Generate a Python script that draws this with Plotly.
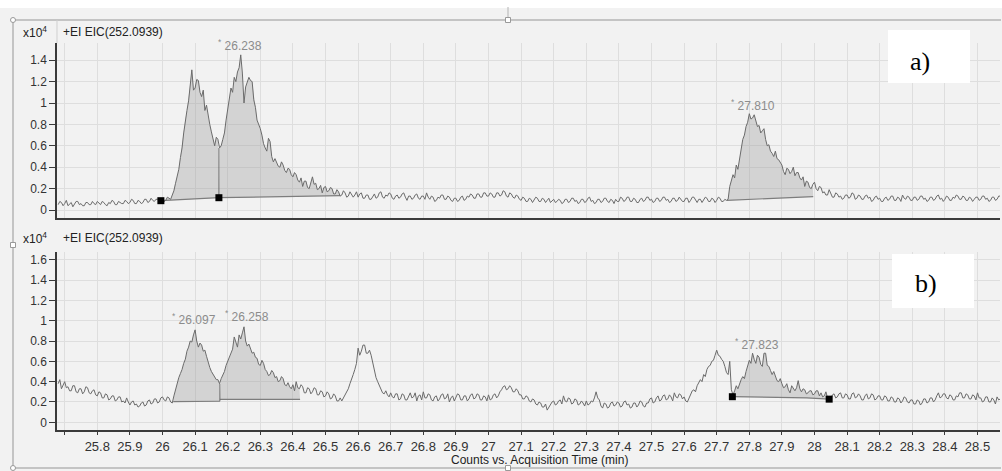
import numpy as np
import plotly.graph_objects as go

W, H = 1002, 471
T0, DT = 25.68, 0.005

# ---- EIC traces (counts x10^4), one row per 0.1 min (0.005 min sampling) ----
eic_a = [
    0.05, 0.08, 0.07, 0.04,
    0.06, 0.09, 0.04, 0.06, 0.07, 0.03, 0.05, 0.08, 0.08, 0.05, 0.06, 0.04, 0.04, 0.07, 0.07, 0.05, 0.05, 0.08, 0.06, 0.05,  # 25.7
    0.08, 0.06, 0.05, 0.08, 0.07, 0.05, 0.04, 0.07, 0.06, 0.09, 0.08, 0.05, 0.05, 0.08, 0.07, 0.06, 0.06, 0.09, 0.08, 0.06,  # 25.8
    0.07, 0.10, 0.09, 0.06, 0.06, 0.09, 0.08, 0.06, 0.07, 0.10, 0.10, 0.07, 0.08, 0.11, 0.09, 0.08, 0.10, 0.10, 0.09, 0.10,  # 25.9
    0.10, 0.08, 0.09, 0.12, 0.11, 0.10, 0.14, 0.18, 0.25, 0.31, 0.38, 0.49, 0.58, 0.72, 0.85, 0.93, 1.02, 1.17, 1.31, 1.12,  # 26.0
    1.14, 1.22, 1.21, 1.10, 1.06, 1.12, 0.93, 0.98, 0.87, 0.80, 0.73, 0.66, 0.60, 0.68, 0.66, 0.58, 0.60, 0.66, 0.72, 0.84,  # 26.1
    0.93, 1.05, 1.14, 1.10, 1.24, 1.20, 1.29, 1.33, 1.45, 1.28, 1.00, 1.15, 1.19, 1.24, 1.21, 1.20, 1.03, 0.96, 0.84, 0.80,  # 26.2
    0.76, 0.70, 0.62, 0.58, 0.55, 0.67, 0.64, 0.50, 0.45, 0.48, 0.44, 0.41, 0.40, 0.45, 0.42, 0.37, 0.35, 0.39, 0.38, 0.33,  # 26.3
    0.31, 0.35, 0.33, 0.28, 0.26, 0.30, 0.22, 0.27, 0.27, 0.21, 0.20, 0.26, 0.31, 0.24, 0.25, 0.19, 0.20, 0.23, 0.16, 0.21,  # 26.4
    0.22, 0.17, 0.18, 0.21, 0.20, 0.15, 0.15, 0.19, 0.17, 0.13, 0.14, 0.18, 0.16, 0.12, 0.13, 0.17, 0.15, 0.12, 0.14, 0.17,  # 26.5
    0.12, 0.15, 0.16, 0.11, 0.11, 0.14, 0.14, 0.10, 0.10, 0.13, 0.15, 0.11, 0.12, 0.16, 0.17, 0.12, 0.11, 0.14, 0.13, 0.16,  # 26.6
    0.15, 0.11, 0.10, 0.13, 0.14, 0.11, 0.12, 0.15, 0.16, 0.12, 0.09, 0.13, 0.13, 0.10, 0.11, 0.14, 0.15, 0.11, 0.10, 0.13,  # 26.7
    0.13, 0.10, 0.16, 0.12, 0.10, 0.13, 0.12, 0.08, 0.09, 0.12, 0.11, 0.14, 0.14, 0.10, 0.10, 0.13, 0.12, 0.09, 0.08, 0.11,  # 26.8
    0.11, 0.08, 0.09, 0.12, 0.13, 0.09, 0.10, 0.13, 0.12, 0.15, 0.14, 0.11, 0.11, 0.15, 0.15, 0.12, 0.12, 0.16, 0.16, 0.13,  # 26.9
    0.13, 0.16, 0.15, 0.12, 0.12, 0.16, 0.16, 0.13, 0.14, 0.18, 0.17, 0.13, 0.12, 0.16, 0.15, 0.12, 0.11, 0.14, 0.13, 0.10,  # 27.0
    0.09, 0.12, 0.11, 0.08, 0.08, 0.11, 0.10, 0.07, 0.09, 0.12, 0.11, 0.08, 0.08, 0.11, 0.10, 0.07, 0.09, 0.11, 0.07, 0.09,  # 27.1
    0.10, 0.07, 0.08, 0.10, 0.09, 0.06, 0.07, 0.10, 0.10, 0.07, 0.08, 0.11, 0.11, 0.08, 0.09, 0.06, 0.07, 0.10, 0.10, 0.07,  # 27.2
    0.08, 0.11, 0.12, 0.08, 0.09, 0.06, 0.07, 0.10, 0.10, 0.07, 0.08, 0.11, 0.11, 0.08, 0.07, 0.10, 0.09, 0.06, 0.10, 0.08,  # 27.3
    0.08, 0.12, 0.11, 0.08, 0.09, 0.12, 0.12, 0.08, 0.08, 0.11, 0.10, 0.07, 0.07, 0.10, 0.11, 0.08, 0.09, 0.12, 0.12, 0.09,  # 27.4
    0.10, 0.07, 0.08, 0.11, 0.11, 0.08, 0.09, 0.12, 0.12, 0.09, 0.10, 0.07, 0.08, 0.11, 0.11, 0.08, 0.09, 0.12, 0.10, 0.08,  # 27.5
    0.08, 0.11, 0.11, 0.07, 0.09, 0.12, 0.12, 0.09, 0.07, 0.10, 0.10, 0.07, 0.09, 0.12, 0.11, 0.08, 0.08, 0.11, 0.10, 0.07,  # 27.6
    0.09, 0.12, 0.11, 0.08, 0.08, 0.10, 0.09, 0.10, 0.22, 0.27, 0.33, 0.30, 0.42, 0.38, 0.48, 0.55, 0.66, 0.70, 0.78, 0.82,  # 27.7
    0.90, 0.85, 0.86, 0.89, 0.83, 0.78, 0.79, 0.72, 0.74, 0.76, 0.66, 0.60, 0.61, 0.55, 0.53, 0.50, 0.55, 0.48, 0.47, 0.44,  # 27.8
    0.42, 0.36, 0.33, 0.39, 0.38, 0.34, 0.36, 0.40, 0.32, 0.35, 0.35, 0.30, 0.28, 0.31, 0.22, 0.27, 0.26, 0.21, 0.20, 0.24,  # 27.9
    0.26, 0.20, 0.18, 0.22, 0.21, 0.16, 0.17, 0.14, 0.14, 0.19, 0.16, 0.12, 0.12, 0.16, 0.15, 0.12, 0.13, 0.10, 0.11, 0.14,  # 28.0
    0.14, 0.11, 0.12, 0.16, 0.15, 0.10, 0.11, 0.14, 0.13, 0.10, 0.10, 0.13, 0.14, 0.11, 0.12, 0.08, 0.09, 0.12, 0.13, 0.10,  # 28.1
    0.11, 0.08, 0.08, 0.11, 0.12, 0.09, 0.10, 0.13, 0.13, 0.09, 0.09, 0.12, 0.11, 0.08, 0.14, 0.11, 0.10, 0.13, 0.12, 0.09,  # 28.2
    0.09, 0.12, 0.12, 0.09, 0.10, 0.13, 0.13, 0.10, 0.11, 0.08, 0.09, 0.12, 0.12, 0.09, 0.10, 0.13, 0.14, 0.10, 0.11, 0.08,  # 28.3
    0.10, 0.13, 0.12, 0.09, 0.09, 0.12, 0.11, 0.14, 0.13, 0.10, 0.10, 0.13, 0.12, 0.09, 0.09, 0.12, 0.11, 0.08, 0.10, 0.12,  # 28.4
    0.12, 0.09, 0.10, 0.13, 0.13, 0.10, 0.11, 0.08, 0.09, 0.12, 0.12, 0.09, 0.10, 0.13, 0.13, 0.10, 0.11, 0.14, 0.12, 0.09,  # 28.5
]

eic_b = [
    0.38, 0.42, 0.33, 0.37,
    0.40, 0.34, 0.35, 0.31, 0.31, 0.36, 0.36, 0.30, 0.29, 0.33, 0.33, 0.28, 0.30, 0.35, 0.34, 0.29, 0.28, 0.31, 0.32, 0.27,  # 25.7
    0.26, 0.30, 0.29, 0.24, 0.24, 0.28, 0.27, 0.22, 0.23, 0.26, 0.26, 0.21, 0.22, 0.25, 0.25, 0.20, 0.21, 0.19, 0.24, 0.20,  # 25.8
    0.17, 0.20, 0.21, 0.17, 0.18, 0.15, 0.16, 0.19, 0.20, 0.16, 0.17, 0.21, 0.22, 0.18, 0.19, 0.23, 0.23, 0.19, 0.20, 0.24,  # 25.9
    0.25, 0.22, 0.21, 0.25, 0.24, 0.20, 0.19, 0.26, 0.33, 0.38, 0.44, 0.48, 0.52, 0.58, 0.62, 0.70, 0.74, 0.80, 0.79, 0.86,  # 26.0
    0.91, 0.80, 0.74, 0.78, 0.76, 0.70, 0.71, 0.65, 0.58, 0.54, 0.50, 0.47, 0.45, 0.42, 0.42, 0.38, 0.43, 0.46, 0.50, 0.56,  # 26.1
    0.60, 0.63, 0.67, 0.72, 0.84, 0.78, 0.74, 0.86, 0.82, 0.88, 0.94, 0.80, 0.75, 0.77, 0.72, 0.68, 0.69, 0.64, 0.63, 0.57,  # 26.2
    0.56, 0.61, 0.58, 0.52, 0.50, 0.46, 0.47, 0.51, 0.49, 0.44, 0.45, 0.40, 0.41, 0.45, 0.43, 0.37, 0.36, 0.39, 0.35, 0.33,  # 26.3
    0.37, 0.31, 0.40, 0.34, 0.33, 0.37, 0.35, 0.29, 0.29, 0.34, 0.33, 0.28, 0.30, 0.34, 0.33, 0.27, 0.27, 0.31, 0.30, 0.25,  # 26.4
    0.26, 0.30, 0.28, 0.23, 0.24, 0.28, 0.26, 0.21, 0.21, 0.24, 0.21, 0.24, 0.26, 0.30, 0.33, 0.38, 0.42, 0.47, 0.52, 0.58,  # 26.5
    0.73, 0.66, 0.70, 0.76, 0.76, 0.68, 0.68, 0.71, 0.66, 0.58, 0.50, 0.44, 0.40, 0.36, 0.33, 0.29, 0.28, 0.31, 0.27, 0.25,  # 26.6
    0.29, 0.25, 0.24, 0.28, 0.28, 0.22, 0.23, 0.28, 0.27, 0.22, 0.22, 0.26, 0.29, 0.24, 0.25, 0.29, 0.21, 0.26, 0.27, 0.22,  # 26.7
    0.30, 0.24, 0.24, 0.28, 0.27, 0.22, 0.21, 0.25, 0.26, 0.21, 0.23, 0.27, 0.28, 0.23, 0.24, 0.28, 0.20, 0.24, 0.26, 0.21,  # 26.8
    0.24, 0.28, 0.27, 0.22, 0.22, 0.26, 0.26, 0.21, 0.23, 0.27, 0.28, 0.23, 0.24, 0.28, 0.27, 0.22, 0.22, 0.26, 0.25, 0.21,  # 26.9
    0.27, 0.22, 0.23, 0.27, 0.28, 0.24, 0.26, 0.30, 0.32, 0.35, 0.36, 0.32, 0.33, 0.36, 0.34, 0.30, 0.30, 0.33, 0.31, 0.27,  # 27.0
    0.27, 0.23, 0.23, 0.26, 0.25, 0.21, 0.20, 0.23, 0.22, 0.18, 0.17, 0.20, 0.19, 0.15, 0.15, 0.18, 0.12, 0.15, 0.17, 0.20,  # 27.1
    0.21, 0.17, 0.18, 0.21, 0.22, 0.18, 0.26, 0.21, 0.20, 0.24, 0.23, 0.18, 0.19, 0.23, 0.22, 0.17, 0.18, 0.21, 0.19, 0.16,  # 27.2
    0.21, 0.17, 0.18, 0.21, 0.20, 0.24, 0.30, 0.24, 0.22, 0.16, 0.14, 0.19, 0.18, 0.14, 0.15, 0.19, 0.20, 0.16, 0.17, 0.20,  # 27.3
    0.19, 0.15, 0.16, 0.20, 0.21, 0.17, 0.18, 0.14, 0.15, 0.19, 0.19, 0.15, 0.17, 0.21, 0.20, 0.16, 0.15, 0.19, 0.19, 0.23,  # 27.4
    0.24, 0.19, 0.20, 0.24, 0.26, 0.21, 0.22, 0.26, 0.27, 0.22, 0.23, 0.27, 0.25, 0.21, 0.29, 0.25, 0.24, 0.28, 0.27, 0.23,  # 27.5
    0.25, 0.21, 0.20, 0.24, 0.28, 0.31, 0.32, 0.30, 0.36, 0.39, 0.42, 0.40, 0.47, 0.45, 0.52, 0.55, 0.56, 0.60, 0.61, 0.66,  # 27.6
    0.71, 0.66, 0.65, 0.62, 0.60, 0.55, 0.49, 0.47, 0.60, 0.32, 0.27, 0.31, 0.36, 0.33, 0.38, 0.42, 0.45, 0.43, 0.50, 0.55,  # 27.7
    0.61, 0.58, 0.68, 0.62, 0.58, 0.66, 0.64, 0.57, 0.55, 0.68, 0.68, 0.56, 0.55, 0.51, 0.47, 0.50, 0.45, 0.41, 0.40, 0.43,  # 27.8
    0.38, 0.34, 0.35, 0.38, 0.32, 0.29, 0.36, 0.33, 0.31, 0.34, 0.41, 0.33, 0.30, 0.33, 0.32, 0.28, 0.29, 0.31, 0.31, 0.27,  # 27.9
    0.28, 0.31, 0.31, 0.26, 0.29, 0.25, 0.26, 0.30, 0.24, 0.21, 0.23, 0.27, 0.28, 0.24, 0.25, 0.28, 0.29, 0.24, 0.24, 0.28,  # 28.0
    0.27, 0.23, 0.23, 0.28, 0.29, 0.24, 0.25, 0.28, 0.26, 0.22, 0.22, 0.26, 0.28, 0.23, 0.24, 0.28, 0.27, 0.22, 0.23, 0.26,  # 28.1
    0.26, 0.22, 0.22, 0.26, 0.25, 0.21, 0.21, 0.25, 0.24, 0.20, 0.20, 0.24, 0.23, 0.19, 0.21, 0.25, 0.24, 0.20, 0.19, 0.22,  # 28.2
    0.22, 0.18, 0.18, 0.22, 0.21, 0.17, 0.19, 0.23, 0.23, 0.19, 0.20, 0.24, 0.24, 0.20, 0.22, 0.26, 0.29, 0.24, 0.25, 0.28,  # 28.3
    0.28, 0.24, 0.23, 0.27, 0.26, 0.22, 0.22, 0.26, 0.25, 0.29, 0.29, 0.24, 0.24, 0.28, 0.27, 0.23, 0.23, 0.27, 0.26, 0.22,  # 28.4
    0.29, 0.24, 0.24, 0.20, 0.21, 0.25, 0.25, 0.20, 0.20, 0.24, 0.22, 0.18, 0.25, 0.22, 0.23, 0.27, 0.26, 0.22, 0.24, 0.28,  # 28.5
]

# integration baselines (time, counts x10^4)
a_base_1 = [(25.995, 0.087), (26.173, 0.115)]
a_base_2 = [(26.173, 0.115), (26.545, 0.135)]
a_base_3 = [(27.731, 0.090), (27.996, 0.125)]
b_base_1 = [(26.033, 0.203), (26.100, 0.203), (26.100, 0.207), (26.176, 0.207)]
b_base_2 = [(26.176, 0.226), (26.422, 0.226)]
b_base_3 = [(27.748, 0.252), (27.823, 0.250), (27.976, 0.240), (28.045, 0.228)]

a_split_t = [26.173]
b_split_t = [26.176]
a_mark_t = [25.995, 26.173]
a_mark_v = [0.087, 0.115]
b_mark_t = [27.748, 28.045]
b_mark_v = [0.252, 0.228]

a_peak_labels = ["26.238", "27.810"]
b_peak_labels = ["26.097", "26.258", "27.823"]

x_tick_vals = [25.7, 25.8, 25.9, 26.0, 26.1, 26.2, 26.3, 26.4, 26.5, 26.6, 26.7, 26.8,
               26.9, 27.0, 27.1, 27.2, 27.3, 27.4, 27.5, 27.6, 27.7, 27.8, 27.9, 28.0,
               28.1, 28.2, 28.3, 28.4, 28.5]
x_tick_text = ["", "25.8", "25.9", "26", "26.1", "26.2", "26.3", "26.4", "26.5", "26.6",
               "26.7", "26.8", "26.9", "27", "27.1", "27.2", "27.3", "27.4", "27.5",
               "27.6", "27.7", "27.8", "27.9", "28", "28.1", "28.2", "28.3", "28.4", "28.5"]
ya_vals = [0, 0.2, 0.4, 0.6, 0.8, 1.0, 1.2, 1.4]
ya_text = ["0", "0.2", "0.4", "0.6", "0.8", "1", "1.2", "1.4"]
yb_vals = [0, 0.2, 0.4, 0.6, 0.8, 1.0, 1.2, 1.4, 1.6]
yb_text = ["0", "0.2", "0.4", "0.6", "0.8", "1", "1.2", "1.4", "1.6"]

# ---------------- drawing ----------------
t_a = T0 + DT * np.arange(len(eic_a))
t_b = T0 + DT * np.arange(len(eic_b))
ya_arr = np.array(eic_a)
yb_arr = np.array(eic_b)

LINE_C = "#6b6b6b"
FILL_C = "rgba(150,150,150,0.33)"
BASE_C = "#7d7d7d"
FONT = "Liberation Sans, Arial, sans-serif"

fig = go.Figure()


def add_region(t, v, base, xa, ya):
    ts, te = base[0][0], base[-1][0]
    m = (t >= ts) & (t <= te)
    bx = [p[0] for p in base]
    by = [p[1] for p in base]
    px = bx + list(t[m][::-1])
    py = by + list(v[m][::-1])
    fig.add_trace(go.Scatter(x=px, y=py, fill="toself", fillcolor=FILL_C, mode="lines",
                             line=dict(width=0), hoverinfo="skip", showlegend=False,
                             xaxis=xa, yaxis=ya))
    fig.add_trace(go.Scatter(x=bx, y=by, mode="lines", line=dict(color=BASE_C, width=1.2),
                             hoverinfo="skip", showlegend=False, xaxis=xa, yaxis=ya))


def nearest(t, v, tt):
    return float(v[np.argmin(np.abs(t - tt))])


def base_at(base, tt):
    return min(base, key=lambda p: abs(p[0] - tt))[1]


for base in (a_base_1, a_base_2, a_base_3):
    add_region(t_a, ya_arr, base, "x", "y")
for base in (b_base_1, b_base_2, b_base_3):
    add_region(t_b, yb_arr, base, "x2", "y2")

fig.add_trace(go.Scatter(x=t_a, y=ya_arr, mode="lines", line=dict(color=LINE_C, width=1),
                         showlegend=False, xaxis="x", yaxis="y"))
fig.add_trace(go.Scatter(x=t_b, y=yb_arr, mode="lines", line=dict(color=LINE_C, width=1),
                         showlegend=False, xaxis="x2", yaxis="y2"))

for ts in a_split_t:
    fig.add_trace(go.Scatter(x=[ts, ts], y=[base_at(a_base_1, ts), nearest(t_a, ya_arr, ts)],
                             mode="lines", line=dict(color=LINE_C, width=1),
                             showlegend=False, xaxis="x", yaxis="y"))
for ts in b_split_t:
    fig.add_trace(go.Scatter(x=[ts, ts], y=[b_base_1[-1][1], nearest(t_b, yb_arr, ts)],
                             mode="lines", line=dict(color=LINE_C, width=1),
                             showlegend=False, xaxis="x2", yaxis="y2"))

fig.add_trace(go.Scatter(x=a_mark_t, y=a_mark_v, mode="markers",
                         marker=dict(symbol="square", size=7, color="black"),
                         showlegend=False, xaxis="x", yaxis="y"))
fig.add_trace(go.Scatter(x=b_mark_t, y=b_mark_v, mode="markers",
                         marker=dict(symbol="square", size=7, color="black"),
                         showlegend=False, xaxis="x2", yaxis="y2"))

annotations = []
for lab in a_peak_labels:
    tt = float(lab)
    m = np.abs(t_a - tt) <= 0.008
    annotations.append(dict(x=tt, y=float(ya_arr[m].max()), xref="x", yref="y",
                            text="<sup>*</sup> " + lab, showarrow=False, yanchor="bottom",
                            yshift=0, font=dict(family=FONT, size=12, color="#8c8c8c")))
for lab in b_peak_labels:
    tt = float(lab)
    m = np.abs(t_b - tt) <= 0.008
    annotations.append(dict(x=tt, y=float(yb_arr[m].max()), xref="x2", yref="y2",
                            text="<sup>*</sup> " + lab, showarrow=False, yanchor="bottom",
                            yshift=1, font=dict(family=FONT, size=12, color="#8c8c8c")))


def fx(p):
    return p / W


def fy(p):
    return 1 - p / H


hdr_font = dict(family=FONT, size=12, color="#222222")
for py in (32, 238):
    annotations.append(dict(x=fx(21), y=fy(py), xref="paper", yref="paper", xanchor="left",
                            yanchor="middle", text="x10<sup>4</sup>", showarrow=False,
                            font=hdr_font))
    annotations.append(dict(x=fx(61), y=fy(py), xref="paper", yref="paper", xanchor="left",
                            yanchor="middle", text="+EI EIC(252.0939)", showarrow=False,
                            font=hdr_font))
annotations.append(dict(x=fx(539), y=fy(460), xref="paper", yref="paper", xanchor="center",
                        yanchor="middle", text="Counts vs. Acquisition Time (min)",
                        showarrow=False, font=dict(family=FONT, size=12, color="#222222")))
annotations.append(dict(x=fx(920), y=fy(62), xref="paper", yref="paper", xanchor="center",
                        yanchor="middle", text="a)", showarrow=False,
                        font=dict(family="Liberation Serif, serif", size=26, color="black")))
annotations.append(dict(x=fx(926), y=fy(283), xref="paper", yref="paper", xanchor="center",
                        yanchor="middle", text="b)", showarrow=False,
                        font=dict(family="Liberation Serif, serif", size=26, color="black")))

FRAME = "#b4b4b4"
shapes = [
    dict(type="rect", xref="paper", yref="paper", x0=0, x1=1, y0=fy(8), y1=1,
         fillcolor="white", line=dict(width=0), layer="below"),
    dict(type="line", xref="paper", yref="paper", x0=fx(13), x1=fx(1001), y0=fy(20), y1=fy(20),
         line=dict(color=FRAME, width=1.5)),
    dict(type="line", xref="paper", yref="paper", x0=fx(13), x1=fx(13), y0=fy(20), y1=fy(468),
         line=dict(color=FRAME, width=1.5)),
    dict(type="line", xref="paper", yref="paper", x0=fx(13), x1=fx(1001), y0=fy(468), y1=fy(468),
         line=dict(color=FRAME, width=1.5)),
    dict(type="line", xref="paper", yref="paper", x0=fx(57), x1=fx(57), y0=fy(20), y1=fy(43),
         line=dict(color="#cfcfcf", width=1)),
    dict(type="line", xref="paper", yref="paper", x0=fx(508), x1=fx(508), y0=fy(7), y1=fy(18),
         line=dict(color=FRAME, width=1)),
    dict(type="rect", xref="paper", yref="paper", x0=fx(505.5), x1=fx(510.5), y0=fy(22.5),
         y1=fy(17.5), fillcolor="white", line=dict(color="#999999", width=1)),
    dict(type="rect", xref="paper", yref="paper", x0=fx(505.5), x1=fx(510.5), y0=fy(470.5),
         y1=fy(465.5), fillcolor="white", line=dict(color="#999999", width=1)),
    dict(type="rect", xref="paper", yref="paper", x0=fx(10.5), x1=fx(15.5), y0=fy(247.5),
         y1=fy(242.5), fillcolor="white", line=dict(color="#999999", width=1)),
    dict(type="circle", xref="paper", yref="paper", x0=fx(10.5), x1=fx(15.5), y0=fy(22.5),
         y1=fy(17.5), fillcolor="white", line=dict(color="#999999", width=1)),
    dict(type="circle", xref="paper", yref="paper", x0=fx(10.5), x1=fx(15.5), y0=fy(470.5),
         y1=fy(465.5), fillcolor="white", line=dict(color="#999999", width=1)),
    dict(type="rect", xref="paper", yref="paper", x0=fx(888), x1=fx(970), y0=fy(83), y1=fy(30),
         fillcolor="white", line=dict(width=0)),
    dict(type="rect", xref="paper", yref="paper", x0=fx(892), x1=fx(974), y0=fy(308), y1=fy(254),
         fillcolor="white", line=dict(width=0)),
]

x_range = [26 - 105.5 / 326, 26 + 837.5 / 326]
GRID = "#dedede"
AX_C = "#3a3a3a"
tick_font = dict(family=FONT, size=12, color="#333333")
xtick_font = dict(family=FONT, size=13, color="#333333")

common_x = dict(range=x_range, tickmode="array", tickvals=x_tick_vals, showgrid=True,
                gridcolor=GRID, gridwidth=1, zeroline=False, showline=True,
                linecolor=AX_C, linewidth=2, domain=[fx(57), fx(1000)])

fig.update_layout(
    width=W, height=H,
    margin=dict(l=0, r=0, t=0, b=0),
    paper_bgcolor="#f2f2f2", plot_bgcolor="#f2f2f2",
    showlegend=False,
    xaxis=dict(**common_x, anchor="y", showticklabels=False, ticks=""),
    xaxis2=dict(**common_x, anchor="y2", ticktext=x_tick_text, ticks="outside", ticklen=3,
                tickcolor=AX_C, tickfont=xtick_font),
    yaxis=dict(domain=[fy(218), fy(43)], range=[(210 - 218) / 107, (210 - 43) / 107],
               tickmode="array", tickvals=ya_vals, ticktext=ya_text, ticks="outside",
               ticklen=6, tickcolor=AX_C, showgrid=True, gridcolor=GRID, zeroline=False,
               showline=True, linecolor=AX_C, linewidth=1.5, tickfont=tick_font,
               anchor="x"),
    yaxis2=dict(domain=[fy(430), fy(252)], range=[(422.3 - 430) / 101.6, (422.3 - 252) / 101.6],
                tickmode="array", tickvals=yb_vals, ticktext=yb_text, ticks="outside",
                ticklen=6, tickcolor=AX_C, showgrid=True, gridcolor=GRID, zeroline=False,
                showline=True, linecolor=AX_C, linewidth=1.5, tickfont=tick_font,
                anchor="x2"),
    annotations=annotations,
    shapes=shapes,
)

fig.write_html("out.html", config={"displayModeBar": False},
               post_script="document.body.style.margin='0px';document.body.style.overflow='hidden';")
